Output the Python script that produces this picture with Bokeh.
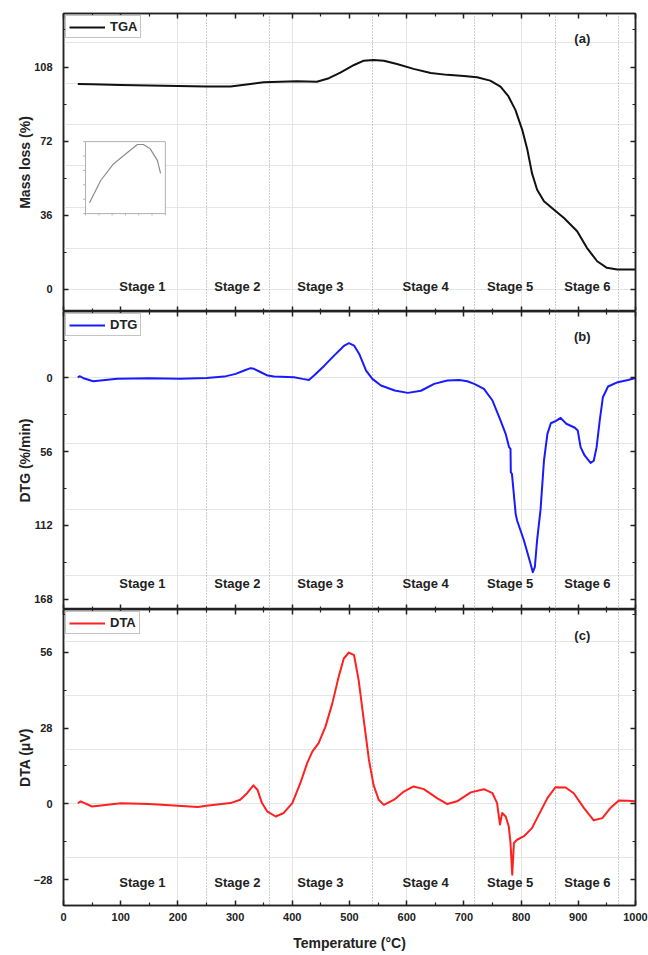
from bokeh.plotting import figure
from bokeh.layouts import column
from bokeh.models import Range1d, LinearAxis, FixedTicker, Legend, LegendItem
from bokeh.embed import file_html
from bokeh.resources import INLINE
from bokeh.core.properties import value

# ---------------- data ----------------
tga_T = [25, 50, 100, 150, 200, 250, 292, 327, 350, 379, 408, 443, 464, 484, 508, 525, 542, 560,
         583, 612, 642, 671, 700, 723, 746, 764, 778, 790, 802, 811, 819, 828, 840, 857, 875, 898,
         915, 933, 950, 968, 1000]
tga_V = [99.8, 99.6, 99.3, 99.0, 98.8, 98.5, 98.5, 99.8, 100.6, 100.9, 101.1, 100.9, 102.6, 105.3,
         109, 111.1, 111.4, 111.1, 109.5, 107.1, 105.1, 104.2, 103.7, 103, 101.4, 98.5, 93.7, 87.2,
         77.5, 67.8, 56.5, 48.4, 42.8, 38.8, 34.7, 28.3, 20.2, 13.7, 10.5, 9.7, 9.7]

dtg_T = [25, 28, 35, 52, 94, 150, 204, 250, 281, 301, 316, 327, 333, 345, 357, 368, 403, 418, 429,
         438, 456, 473, 491, 499, 508, 517, 529, 540, 555, 579, 602, 625, 648, 671, 692, 706, 718,
         735, 750, 764, 773, 779, 781.5, 782, 784, 790.5, 793, 805, 816.5, 820.5, 824, 828, 834,
         840, 846, 852, 861, 869, 879, 894, 899, 904, 911, 921.5, 927, 932, 937.5, 943, 952, 969,
         987, 1000]
dtg_V = [0, -1, 0.5, 2.8, 1.0, 0.5, 1.0, 0.3, -0.7, -2.8, -5.3, -7.1, -6.6, -4, -1.5, -0.8, -0.3,
         1.0, 1.8, -1.5, -9, -16.6, -24.2, -26, -24.2, -17.9, -5.3, 1.0, 6, 9.8, 11.6, 10, 4.8, 2.3,
         1.8, 2.8, 4.8, 8.6, 17.4, 32.5, 42.6, 52.7, 54, 71.7, 72.9, 103.2, 108.2, 123.4, 141,
         147.3, 143.6, 123, 100, 62.8, 42.6, 34.6, 32.8, 30.5, 35, 38, 40.1, 52.7, 59, 64.6, 63,
         52.7, 32.5, 14.9, 6.8, 3.5, 1.8, 0.3]

dta_T = [25, 30, 50, 100, 150, 200, 235, 250, 280, 292, 309, 321, 332, 339, 347, 356, 371, 385,
         400, 414, 426, 435, 446, 458, 470, 481, 490, 499, 508, 516, 525, 534, 542, 551, 560, 578,
         595, 612, 630, 653, 671, 688, 712, 735, 750, 758, 763, 767, 773, 778.5, 781.5, 784.5,
         787.5, 793, 805, 819, 834, 846, 860, 878, 892, 910, 927, 942, 956, 971, 986, 1000]
dta_V = [0.2, 0.9, -1, 0.2, -0.1, -0.7, -1.2, -0.7, 0, 0.25, 1.5, 3.9, 6.8, 5.2, 0.25, -2.8, -4.7,
         -3.4, 0.25, 7.6, 15, 19.3, 22.4, 28.5, 37.1, 46.9, 53.7, 55.9, 54.9, 45.7, 30.9, 16.2, 7,
         1.5, -0.4, 1.5, 4.5, 6.4, 5.4, 2.1, -0.1, 0.9, 4.2, 5.4, 3.9, 0.25, -7.7, -3.4, -4.7,
         -8.4, -14.5, -26.2, -14.5, -13.3, -12, -9, -2.8, 2.1, 6.1, 6, 3.9, -1.6, -6.1, -5.3,
         -1.6, 1.2, 1.1, 0.9]

# inset (TGA detail), in the inset's own units
inset_x = [0.5, 1.9, 3.5, 5.25, 6.5, 7.25, 8.1, 9.0, 9.4]
inset_y = [1.5, 4.6, 6.9, 8.5, 9.6, 9.6, 9.0, 7.4, 5.6]
inset_xlim = [0, 10]
inset_ylim = [0, 10]
inset_xticks = [0, 1.667, 3.333, 5, 6.667, 8.333, 10]
inset_yticks = [0, 2, 4, 6, 8, 10]

stage_bounds = [250, 360, 540, 718, 860, 970]
stage_centers = [138, 304, 449, 633, 781, 916]
stage_names = ["Stage 1", "Stage 2", "Stage 3", "Stage 4", "Stage 5", "Stage 6"]

x_ticks = list(range(0, 1001, 100))
x_minor = list(range(50, 1000, 100))
tga_ticks, tga_minor = [0, 36, 72, 108], [18, 54, 90, 126]
dtg_ticks, dtg_minor = [0, 56, 112, 168], [-28, 28, 84, 140]
dta_ticks, dta_minor = [-28, 0, 28, 56], [-14, 14, 42, 70]

FONT = "Liberation Sans"
AX = "#222222"

x_range = Range1d(0, 1000)


def style_axis(ax, labels):
    ax.axis_line_color = AX
    ax.axis_line_width = 1.5
    ax.major_tick_in = 5
    ax.major_tick_out = 0
    ax.minor_tick_in = 3
    ax.minor_tick_out = 0
    ax.major_tick_line_color = AX
    ax.major_tick_line_width = 1.5
    ax.minor_tick_line_color = AX
    ax.minor_tick_line_width = 1.2
    if labels:
        ax.major_label_text_font = FONT
        ax.major_label_text_font_style = "bold"
        ax.major_label_text_font_size = "11px"
        ax.major_label_text_color = "#222222"
        ax.axis_label_text_font = FONT
        ax.axis_label_text_font_style = "bold"
        ax.axis_label_text_font_size = "14px"
        ax.axis_label_text_color = "#222222"
    else:
        ax.major_label_text_font_size = "0px"
        ax.major_label_text_color = None
        ax.major_label_text_alpha = 0
        ax.major_label_standoff = 0
        ax.axis_label_standoff = 0


def make_panel(height, yr, yticks, yminor, ylabel, btop, bbottom, xlabels):
    p = figure(width=648, height=height, x_range=x_range, y_range=yr,
               output_backend="svg", toolbar_location=None,
               x_axis_location=None, y_axis_location=None,
               min_border_left=63, min_border_right=13,
               min_border_top=btop, min_border_bottom=bbottom)
    p.outline_line_color = AX
    p.outline_line_width = 1.5
    p.background_fill_color = "white"
    p.border_fill_color = "white"
    yt = FixedTicker(ticks=yticks, minor_ticks=yminor)
    xt = FixedTicker(ticks=x_ticks, minor_ticks=x_minor)

    left = LinearAxis(ticker=yt, axis_label=ylabel)
    style_axis(left, True)
    left.major_label_standoff = 11
    left.axis_label_standoff = -2
    p.add_layout(left, "left")

    right = LinearAxis(ticker=yt)
    style_axis(right, False)
    p.add_layout(right, "right")

    top = LinearAxis(ticker=xt)
    style_axis(top, False)
    p.add_layout(top, "above")

    bottom = LinearAxis(ticker=xt, axis_label="Temperature (°C)" if xlabels else None)
    style_axis(bottom, xlabels)
    if xlabels:
        bottom.major_label_standoff = 7
        bottom.axis_label_standoff = 11
    p.add_layout(bottom, "below")

    p.vspan(x=stage_bounds, line_color="#9a9a9a", line_dash="1 2", line_width=1)
    return p


def add_labels(p, stage_y, tag, tag_x, tag_y):
    p.text(x=stage_centers, y=[stage_y] * len(stage_centers), text=stage_names,
           text_font=value(FONT), text_font_style="bold", text_font_size="13px",
           text_align="center", text_baseline="middle", text_color="#222222")
    p.text(x=[tag_x], y=[tag_y], text=[tag], text_font=value(FONT), text_font_style="bold",
           text_font_size="13px", text_align="center", text_baseline="middle",
           text_color="#222222")


def add_legend(p, r, label):
    lg = Legend(items=[LegendItem(label=label, renderers=[r])], location="top_left")
    lg.label_text_font = FONT
    lg.label_text_font_style = "bold"
    lg.label_text_font_size = "13px"
    lg.label_text_color = "#222222"
    lg.border_line_color = "#8a8a8a"
    lg.border_line_width = 1
    lg.glyph_width = 36
    lg.glyph_height = 12
    lg.padding = 3
    lg.margin = 2
    lg.label_standoff = 5
    lg.spacing = 0
    lg.background_fill_alpha = 1
    p.add_layout(lg)


# ---------------- panel (a) TGA ----------------
pa = make_panel(311, Range1d(-10.7, 134), tga_ticks, tga_minor, "Mass loss (%)", 13, 0, False)
ra = pa.line(tga_T, tga_V, line_color="#111111", line_width=2, line_join="round")
add_legend(pa, ra, "TGA")
add_labels(pa, 1.5, "(a)", 907, 122)

# inset drawn on its own scales inside panel (a)
pa.extra_x_ranges = {"ix": Range1d(-2.76, 68.9)}
pa.extra_y_ranges = {"iy": Range1d(-13.6, 27.8)}
pa.quad(left=[inset_xlim[0]], right=[inset_xlim[1]], bottom=[inset_ylim[0]], top=[inset_ylim[1]],
        fill_color="white", line_color="#b0b0b0", line_width=1,
        x_range_name="ix", y_range_name="iy")
pa.segment(x0=inset_xticks, x1=inset_xticks, y0=[inset_ylim[0]] * len(inset_xticks),
           y1=[inset_ylim[0] - 0.25] * len(inset_xticks), line_color="#b0b0b0", line_width=1,
           x_range_name="ix", y_range_name="iy")
pa.segment(x0=[inset_xlim[0]] * len(inset_yticks), x1=[inset_xlim[0] - 0.3] * len(inset_yticks),
           y0=inset_yticks, y1=inset_yticks, line_color="#b0b0b0", line_width=1,
           x_range_name="ix", y_range_name="iy")
pa.line(inset_x, inset_y, line_color="#8c8c8c", line_width=1.2, line_join="round",
        x_range_name="ix", y_range_name="iy")

# ---------------- panel (b) DTG (inverted axis) ----------------
pb = make_panel(298, Range1d(175.6, -50), dtg_ticks, dtg_minor, "DTG (%/min)", 0, 0, False)
rb = pb.line(dtg_T, dtg_V, line_color="#1a1aff", line_width=2, line_join="round")
add_legend(pb, rb, "DTG")
add_labels(pb, 156, "(b)", 907, -31)

# ---------------- panel (c) DTA ----------------
pc = make_panel(344, Range1d(-37.6, 71.8), dta_ticks, dta_minor, "DTA (μV)", 0, 47, True)
rc = pc.line(dta_T, dta_V, line_color="#ff2020", line_width=2, line_join="round")
add_legend(pc, rc, "DTA")
add_labels(pc, -29, "(c)", 907, 62.3)

layout = column(pa, pb, pc, spacing=0)
open("out.html", "w").write(file_html(layout, INLINE))
